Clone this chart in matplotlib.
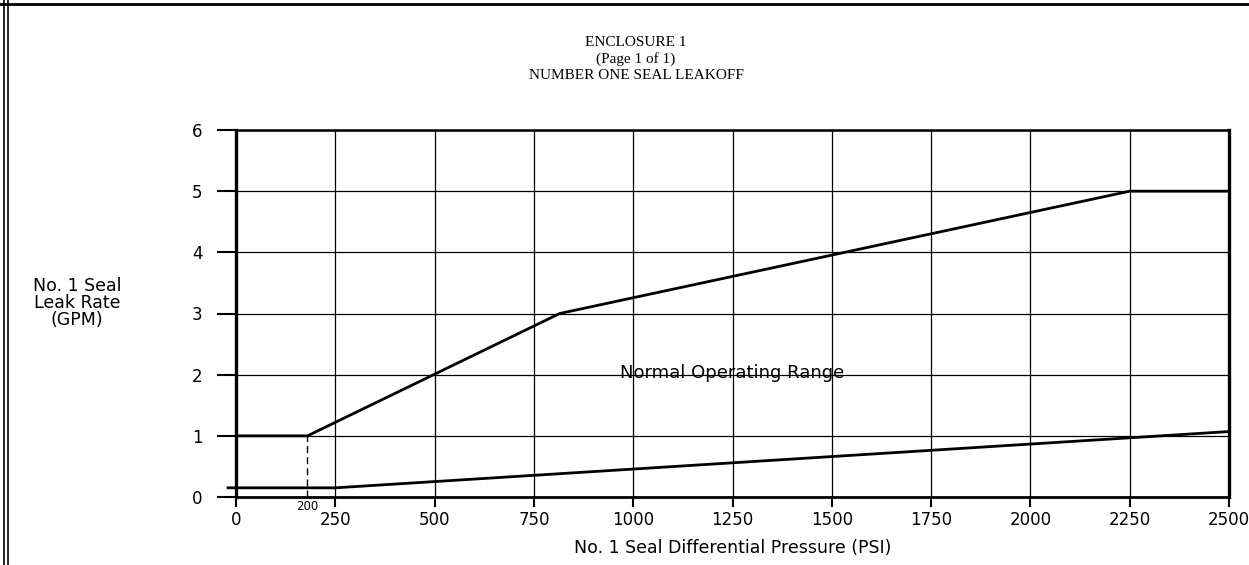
import matplotlib
matplotlib.use('Agg')
import matplotlib.pyplot as plt
from matplotlib.lines import Line2D

# Datos
upper_psi = [0, 180, 815, 2250, 2500]
upper_gpm = [1, 1, 3, 5, 5]

lower_psi = [-20, 250, 2500]
lower_gpm = [0.15, 0.15, 1.07]

limit_psi = 180  # línea de trazos (marcada "200")
limit_label = '200'

x_ticks = [0, 250, 500, 750, 1000, 1250, 1500, 1750, 2000, 2250, 2500]
y_ticks = [0, 1, 2, 3, 4, 5, 6]

title_lines = ['ENCLOSURE 1', '(Page 1 of 1)', 'NUMBER ONE SEAL LEAKOFF']
ylabel = 'No. 1 Seal\nLeak Rate\n(GPM)'
xlabel = 'No. 1 Seal Differential Pressure (PSI)'
region_text = 'Normal Operating Range'

W, H = 1249, 565
fig = plt.figure(figsize=(W/100, H/100), dpi=100)
ax = fig.add_axes([236/W, 1-497/H, (1229-236)/W, (497-130)/H])

sans = 'DejaVu Sans'
serif = 'Liberation Serif'

ax.set_xlim(0, 2500)
ax.set_ylim(0, 6)
ax.set_xticks(x_ticks)
ax.set_yticks(y_ticks)
ax.set_xticklabels([str(v) for v in x_ticks], fontsize=12, family=sans)
ax.set_yticklabels([str(v) for v in y_ticks], fontsize=12, family=sans)
ax.tick_params(axis='y', direction='out', length=14, width=1.5, pad=10)
ax.tick_params(axis='x', direction='out', length=7, width=1.5, pad=3)
ax.grid(True, color='black', lw=0.9)

for side, w in [('left', 2.4), ('right', 2.4), ('bottom', 2.0), ('top', 1.8)]:
    ax.spines[side].set_linewidth(w)
    ax.spines[side].set_color('black')

# curvas
ax.plot(upper_psi, upper_gpm, color='black', lw=2.0, clip_on=False, zorder=5)
ax.plot(lower_psi, lower_gpm, color='black', lw=2.0, clip_on=False, zorder=5)
ax.plot([limit_psi, limit_psi], [0, upper_gpm[1]], color='black', lw=1.0,
        ls=(0, (5, 3)), zorder=4)
ax.text(limit_psi, -0.05, limit_label, ha='center', va='top', fontsize=8.5,
        family=sans)

ax.text(1250, 2.03, region_text, ha='center', va='center', fontsize=13,
        family=sans, zorder=6)

ax.set_xlabel(xlabel, fontsize=12.5, family=sans, labelpad=7)
fig.text(77/W, 1-303/H, ylabel, ha='center', va='center', fontsize=12.5,
         family=sans, multialignment='center', linespacing=0.95)

# encabezado
for txt, yp in zip(title_lines, [42, 59, 76]):
    fig.text(636/W, 1-yp/H, txt, ha='center', va='center', fontsize=11,
             family=serif)

# marco de la página
fig.add_artist(Line2D([0, 1], [1-4/H, 1-4/H], color='black', lw=2.0,
                      transform=fig.transFigure))
fig.add_artist(Line2D([4/W, 4/W], [0, 1], color='black', lw=1.2,
                      transform=fig.transFigure))
fig.add_artist(Line2D([8/W, 8/W], [0, 1], color='black', lw=1.2,
                      transform=fig.transFigure))

fig.savefig('out.png', dpi=100)
